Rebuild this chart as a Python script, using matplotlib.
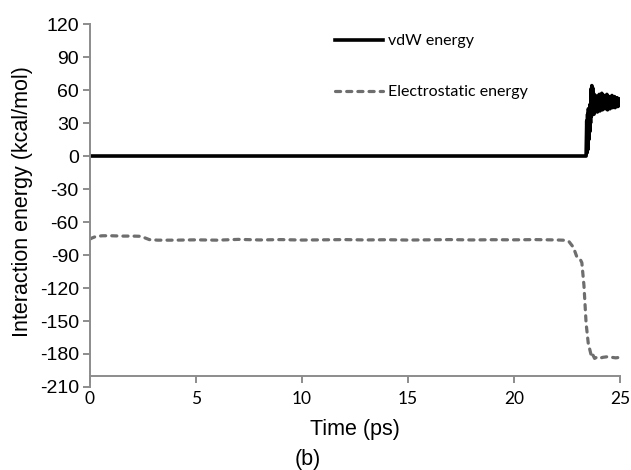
import matplotlib
matplotlib.use("Agg")
import matplotlib.pyplot as plt

plt.rcParams["axes.unicode_minus"] = False

# vdW energy (kcal/mol) vs time (ps)
vdw_time = [0.0, 23.40, 23.43, 23.45, 23.47, 23.49, 23.51, 23.53, 23.55, 23.57,
            23.59, 23.61, 23.63, 23.65, 23.67, 23.69, 23.71, 23.73, 23.75, 23.77,
            23.79, 23.81, 23.84, 23.87, 23.90, 23.93, 23.96, 23.99, 24.02, 24.05,
            24.08, 24.11, 24.14, 24.17, 24.20, 24.23, 24.26, 24.29, 24.32, 24.35,
            24.38, 24.41, 24.44, 24.47, 24.50, 24.53, 24.56, 24.59, 24.62, 24.65,
            24.68, 24.71, 24.74, 24.77, 24.80, 24.83, 24.86, 24.89, 24.92, 24.95,
            24.98, 25.00]
vdw_energy = [0, 0, 32, 3, 38, 6, 43, 15, 41, 22,
              47, 30, 61, 36, 64, 40, 62, 42, 57, 38,
              53, 41, 55, 42, 51, 40, 54, 43, 56, 41,
              52, 44, 57, 42, 53, 45, 55, 43, 52, 46,
              56, 42, 51, 45, 54, 43, 53, 47, 55, 44,
              52, 46, 54, 44, 51, 47, 53, 45, 50, 47,
              52, 46]

# electrostatic energy (kcal/mol) vs time (ps)
elec_time = [0.0, 0.1, 0.3, 0.6, 1.0, 1.5, 2.0, 2.4, 2.6, 2.8,
             3.2, 4, 5, 6, 7, 8, 9, 10, 11, 12,
             13, 14, 15, 16, 17, 18, 19, 20, 21, 22.0,
             22.4, 22.6, 22.8, 22.95, 23.1, 23.2, 23.3, 23.4, 23.5, 23.6,
             23.65, 23.7, 23.8, 23.9, 24.0, 24.2, 24.4, 24.6, 24.8, 25.0]
elec_energy = [-75.5, -74.5, -73, -72.5, -72.5, -72.8, -72.8, -73, -74.5, -76,
               -76.5, -76.5, -76.2, -76.5, -75.8, -76.3, -76, -76.4, -76.2, -76,
               -76.3, -76.1, -76.4, -76.2, -76, -76.3, -76.1, -76.2, -76, -76.3,
               -76.6, -78, -83, -91, -93, -97, -118, -152, -170, -178,
               -182, -180, -184, -183, -184, -183, -182.5, -183, -183.5, -183]

xticks = [0, 5, 10, 15, 20, 25]
yticks = list(range(-210, 121, 30))

spine_col = "#8c8c8c"

fig = plt.figure(figsize=(6.31, 4.70), dpi=100)
ax = fig.add_axes([0.1426, 0.1766, 0.840, 0.7723])

ax.plot(vdw_time, vdw_energy, color="black", lw=2.6, label="vdW energy")
ax.plot(elec_time, elec_energy, color="#6e6e6e", lw=2.3, dashes=(1.6, 1.9),
        dash_capstyle="round", label="Electrostatic energy")

ax.set_xlim(0, 25)
ax.set_ylim(-210, 120)
ax.set_xticks(xticks)
ax.set_yticks(yticks)

for s in ["top", "right"]:
    ax.spines[s].set_visible(False)
ax.spines["bottom"].set_position(("data", -200))
for s in ["left", "bottom"]:
    ax.spines[s].set_color(spine_col)
    ax.spines[s].set_linewidth(1.4)

ax.tick_params(axis="both", direction="out", length=5, width=1.4, color=spine_col)
ax.tick_params(axis="y", pad=3)
ax.tick_params(axis="x", pad=6)
for lab in ax.get_yticklabels():
    lab.set_family("Liberation Sans")
    lab.set_fontsize(14)
for lab in ax.get_xticklabels():
    lab.set_family("Lato")
    lab.set_fontsize(12.5)

fig.text(355 / 631, 1 - 430 / 470, "Time (ps)", ha="center", va="center",
         family="Liberation Sans", fontsize=15.5)
fig.text(308 / 631, 1 - 460 / 470, "(b)", ha="center", va="center",
         family="Liberation Sans", fontsize=15.5)
fig.text(23 / 631, 1 - 202 / 470, "Interaction energy (kcal/mol)", ha="center",
         va="center", rotation=90, family="Liberation Sans", fontsize=15.5)

fig.legend(loc="upper left", bbox_to_anchor=(335 / 631, 1 - 34 / 470),
           frameon=False, borderpad=0, borderaxespad=0, handlelength=3.0,
           handletextpad=0.3, labelspacing=2.3,
           prop={"family": "Lato", "size": 11.5})

fig.savefig("out.png", dpi=100)
